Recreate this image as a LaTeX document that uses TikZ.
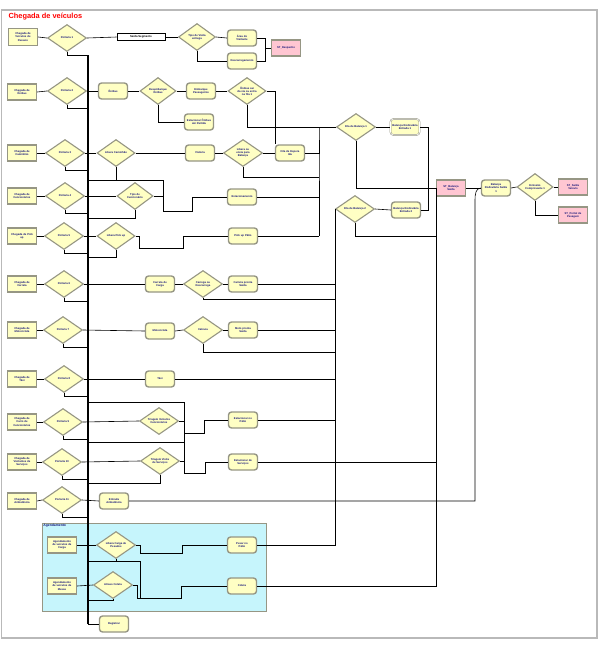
\documentclass[tikz,border=0pt]{standalone}
\usepackage{fontspec}
\setmainfont{Liberation Sans}
\usetikzlibrary{positioning, shapes.geometric}

\definecolor{modfill}{RGB}{255,255,196}
\definecolor{modedge}{RGB}{150,150,132}
\definecolor{stfill}{RGB}{255,198,210}
\definecolor{agfill}{RGB}{198,245,252}
\definecolor{modtext}{RGB}{20,20,120}

\tikzset{
    createnode/.style={rectangle, draw=modedge, fill=modfill, line width=1.4pt, minimum width=29pt, minimum height=16pt, inner sep=0.5pt, text width=26pt, align=center, text=modtext, font=\bfseries\fontsize{2.7}{3.1}\selectfont},
    processnode/.style={createnode, rounded corners=3pt},
    stationnode/.style={createnode, fill=stfill},
    decidenode/.style={diamond, aspect=1.5, draw=modedge, fill=modfill, line width=1.1pt, minimum width=39pt, minimum height=27pt, inner sep=0pt, align=center, text=modtext, font=\bfseries\fontsize{2.7}{3.1}\selectfont},
    routenode/.style={rectangle, draw=black, fill=white, line width=0.6pt, minimum width=48pt, minimum height=7pt, inner sep=0.5pt, font=\bfseries\fontsize{2.8}{3}\selectfont},
    myline/.style={draw=black, line width=0.6pt},
    busline/.style={draw=black, line width=1.6pt},
    grouplabel/.style={text=modtext, font=\bfseries\fontsize{3.4}{4}\selectfont},
    titlelabel/.style={text=red, font=\bfseries\fontsize{7.4}{8}\selectfont}
}

\begin{document}
\begin{tikzpicture}[x=1pt, y=-1pt]
    \useasboundingbox (0,0) rectangle (599,646);
    \draw[gray!55, line width=1.2pt] (1.5,10) rectangle (597,638);
    \node[titlelabel, anchor=west] (title) at (5,17) {Chegada de veículos};

    % ------------------
    % agendamento area
    % ------------------
    \node[rectangle, draw=modedge, fill=agfill, line width=0.6pt, minimum width=224pt, minimum height=88pt] (agend) at (154,567) {};
    \node[grouplabel, anchor=north west, inner sep=1.5pt] (agendlabel) at (agend.north west) {Agendamento};

    % ------------------
    % nodes
    % ------------------

    % arrivals and gates
    \node[createnode, minimum height=17pt] (c1) at (23,37) {Chegada de\\Veículos de\\Passeio};
    \node[decidenode] (d1) at (67,38) {Portaria 1};
    \node[createnode] (c2) at (22,92) {Chegada de\\Ônibus};
    \node[decidenode] (d2) at (67,91) {Portaria 2};
    \node[createnode] (c3) at (22,153) {Chegada de\\Caminhão};
    \node[decidenode] (d3) at (65,153) {Portaria 3};
    \node[createnode] (c4) at (22,196) {Chegada de\\Funcionários};
    \node[decidenode] (d4) at (65,196) {Portaria 4};
    \node[createnode] (c5) at (22,236) {Chegada de Pick\\up};
    \node[decidenode] (d5) at (64,236) {Portaria 5};
    \node[createnode] (c6) at (22,284) {Chegada de\\Carreta};
    \node[decidenode] (d6) at (64,284) {Portaria 6};
    \node[createnode] (c7) at (22,330) {Chegada de\\Motocicleta};
    \node[decidenode] (d7) at (63,330) {Portaria 7};
    \node[createnode] (c8) at (22,379) {Chegada de\\Táxi};
    \node[decidenode] (d8) at (64,379) {Portaria 8};
    \node[createnode] (c9) at (22,422) {Chegada de\\Carro de\\Funcionários};
    \node[decidenode] (d9) at (63,422) {Portaria 9};
    \node[createnode] (c10) at (22,462) {Chegada de\\Visitantes de\\Serviços};
    \node[decidenode] (d10) at (62,462) {Portaria 10};
    \node[createnode] (c11) at (22,501) {Chegada de\\Ambulância};
    \node[decidenode] (d11) at (62,500) {Portaria 11};

    % row 1
    \node[routenode] (s1) at (141,37) {Saída Segmento};
    \node[decidenode, minimum width=37pt] (q1) at (197,37) {Tipo de Visita\\entrega};
    \node[processnode] (p1a) at (242,38) {Área de\\Visitante};
    \node[processnode] (p1b) at (242,61) {Descarregamento};
    \node[stationnode] (st1) at (286,48) {ST\_Despacho};

    % row 2
    \node[processnode] (p2) at (113,91) {Ônibus};
    \node[decidenode, minimum width=36pt] (q2) at (158,91) {Desembarque\\Ônibus};
    \node[processnode] (p2a) at (201,91) {Embarque\\Passageiros};
    \node[processnode] (p2b) at (199,122) {Estacionar Ônibus\\até Partida};
    \node[decidenode, minimum width=38pt] (q2b) at (247,91) {Ônibus sai\\da via ou entra\\na fila 1};

    % row 3
    \node[decidenode, minimum width=38pt] (q3) at (116,153) {Libera Caminhão};
    \node[processnode] (p3) at (200,153) {Vistoria};
    \node[decidenode] (q3b) at (243,153) {Libera ou\\envia para\\Balança};
    \node[processnode] (p3b) at (290,153) {Fila de Espera\\Ida};

    % rows 4 and 5
    \node[decidenode, minimum width=36pt] (q4) at (135,196) {Tipo de\\Funcionário};
    \node[processnode] (p4) at (242,197) {Estacionamento};
    \node[decidenode, minimum width=38pt] (q5) at (116,236) {Libera Pick up};
    \node[processnode] (p5) at (243,236) {Pick up Pátio};

    % rows 6 to 8
    \node[processnode] (p6) at (160,284) {Carreta de\\Carga};
    \node[decidenode] (q6) at (203,284) {Carrega ou\\Descarrega};
    \node[processnode] (p6b) at (243,284) {Carreta pronta\\Saída};
    \node[processnode] (p7) at (160,331) {Motocicleta};
    \node[decidenode] (q7) at (203,330) {Catraca};
    \node[processnode] (p7b) at (243,330) {Moto pronta\\Saída};
    \node[processnode] (p8) at (160,379) {Táxi};

    % rows 9 to 11
    \node[decidenode] (q9) at (159,421) {Triagem Veículos\\Funcionários};
    \node[processnode] (p9) at (243,420) {Estacionar no\\Pátio};
    \node[decidenode] (q10) at (160,461) {Triagem Visita\\de Serviços};
    \node[processnode] (p10) at (243,462) {Estacionar de\\Serviços};
    \node[processnode] (p11) at (114,501) {Entrada\\Ambulância};

    % agendamento
    \node[createnode] (ca) at (62,545) {Agendamento\\de veículos de\\Carga};
    \node[decidenode] (qa) at (116,545) {Libera Carga de\\Pesados};
    \node[processnode] (pa) at (242,545) {Pesar no\\Pátio};
    \node[createnode] (cb) at (62,586) {Agendamento\\de veículos de\\Mesas};
    \node[decidenode] (qb) at (113,585) {Atraso Coleta};
    \node[processnode] (pb) at (242,586) {Coleta};
    \node[processnode] (reg) at (114,624) {Registrar};

    % scales and exit
    \node[decidenode] (fila1) at (356,127) {Fila de Balança 1};
    \node[processnode, double, double distance=0.6pt, line width=0.5pt] (bal1) at (405,127) {Balança Rodoviária\\Entrada 1};
    \node[decidenode] (fila2) at (355,209) {Fila de Balança 2};
    \node[processnode] (bal2) at (406,210) {Balança Rodoviária\\Entrada 2};
    \node[stationnode] (stsai) at (451,188) {ST\_Balança\\Saída};
    \node[processnode] (emb) at (496,188) {Balança\\Rodoviária Saída\\1};
    \node[decidenode, minimum width=36pt] (qemp) at (535,187) {Emissão\\Comprovante 1};
    \node[stationnode] (st2) at (573,187) {ST\_Saída\\Veículo};
    \node[stationnode] (st3) at (573,215) {ST\_Portal de\\Pesagem};

    % ------------------
    % connectors
    % ------------------

    % main bus
    \coordinate (bustop) at (88,55);
    \coordinate (busend) at (88,624);
    \draw[busline] (bustop) -- (busend);
    \draw[myline] (busend) -- (reg.west);

    \foreach \i in {1,...,11} {
        \draw[myline] (c\i.east) -- (d\i.west);
        \draw[myline] (d\i.south) -- ++(0,3) coordinate (b\i) -- (b\i -| bustop);
    }

    % row 1
    \draw[myline] (d1.east) -- (s1.west);
    \draw[myline] (s1.east) -- (q1.west);
    \draw[myline] (q1.east) -- (p1a.west);
    \draw[myline] (q1.south) |- (p1b.west);
    \coordinate (j1) at (265,48);
    \draw[myline] (p1a.east) -| (j1) -- (st1.west);
    \draw[myline] (p1b.east) -| (j1);

    % row 2
    \draw[myline] (d2.east) -- (p2.west);
    \draw[myline] (p2.east) -- (q2.west);
    \draw[myline] (q2.east) -- (p2a.west);
    \draw[myline] (q2.south) |- (p2b.west);
    \draw[myline] (p2a.east) -- (q2b.west);
    \draw[myline] (q2b.east) -| (p3b.north west);
    \draw[myline] (q2b.south) |- (fila1.west);

    % row 3
    \draw[myline] (d3.east) -- (q3.west);
    \draw[myline] (q3.east) -- (p3.west);
    \draw[myline] (p3.east) -- (q3b.west);
    \draw[myline] (q3b.east) -- (p3b.west);
    \coordinate (j3) at (319,127);
    \draw[myline] (p3b.east) -| (j3) -- (319,236);
    \draw[myline] (q3b.south) |- (319,177);
    \draw[myline] (q3.south) |- (163,180);

    % row 4
    \draw[myline] (bustop |- 0,180) -- (163,180) -- (163,211) -- (192,211) |- (p4.west);
    \draw[myline] (d4.east) -- (q4.west);
    \draw[myline] (q4.east) -- (163,196);
    \draw[myline] (q4.south) |- (88,218);
    \draw[myline] (p4.east) -- (319,197);

    % row 5
    \draw[myline] (d5.east) -- (q5.west);
    \draw[myline] (q5.east) -| (139,248) -| (183,236) -- (p5.west);
    \draw[myline] (q5.south) |- (88,257);
    \draw[myline] (p5.east) -- (319,236);

    % rows 6 to 8
    \draw[myline] (d6.east) -- (p6.west);
    \draw[myline] (p6.east) -- (q6.west);
    \draw[myline] (q6.east) -- (p6b.west);
    \draw[myline] (p6b.east) -- (335,284);
    \draw[myline] (q6.south) |- (335,299);
    \draw[myline] (d7.east) -- (p7.west);
    \draw[myline] (p7.east) -- (q7.west);
    \draw[myline] (q7.east) -- (p7b.west);
    \draw[myline] (p7b.east) -- (335,330);
    \draw[myline] (q7.south) |- (335,352);
    \draw[myline] (d8.east) -- (p8.west);
    \draw[myline] (p8.east) -- (335,379);

    % rows 9 and 10
    \draw[myline] (d9.east) -- (q9.west);
    \draw[myline] (q9.east) -- (184,421);
    \draw[myline] (88,402) -- (184,402) -- (184,473) -- (205,473) |- (p10.west);
    \draw[myline] (88,442) -- (184,442);
    \draw[myline] (184,433) -- (204,433) |- (p9.west);
    \draw[myline] (p9.east) -- (335,420);
    \draw[myline] (d10.east) -- (q10.west);
    \draw[myline] (q10.east) -- (184,461);
    \draw[myline] (q10.south) |- (88,483);
    \draw[myline] (p10.east) -- (436,462);

    % row 11
    \draw[myline] (d11.east) -- (p11.west);
    \draw[myline] (p11.east) -| (475,200) to[out=90, in=180] (emb.west);

    % agendamento
    \draw[myline] (ca.east) -- (qa.west);
    \draw[myline] (qa.east) -| (140,553) -| (182,545) -- (pa.west);
    \draw[myline] (qa.south) |- (88,561);
    \draw[myline] (88,561) -- (140,561) -- (140,598);
    \draw[myline] (pa.east) -| (fila2.west);
    \draw[myline] (cb.east) -- (qb.west);
    \draw[myline] (qb.east) -| (137,598) -| (181,586) -- (pb.west);
    \draw[myline] (qb.south) |- (88,600);
    \draw[myline] (pb.east) -| (436,188);

    % scales
    \draw[myline] (fila1.east) -- (bal1.west);
    \draw[myline] (fila2.east) -- (bal2.west);
    \draw[myline] (bal1.east) -| (428,188);
    \draw[myline] (bal2.east) -| (428,188);
    \draw[myline] (fila1.south) |- (stsai.west);
    \draw[myline] (fila2.south) |- (436,236);

    % exit
    \draw[myline] (stsai.east) -- (emb.west);
    \draw[myline] (emb.east) -- (qemp.west);
    \draw[myline] (qemp.east) -- (st2.west);
    \draw[myline] (qemp.south) |- (st3.west);

\end{tikzpicture}
\end{document}
